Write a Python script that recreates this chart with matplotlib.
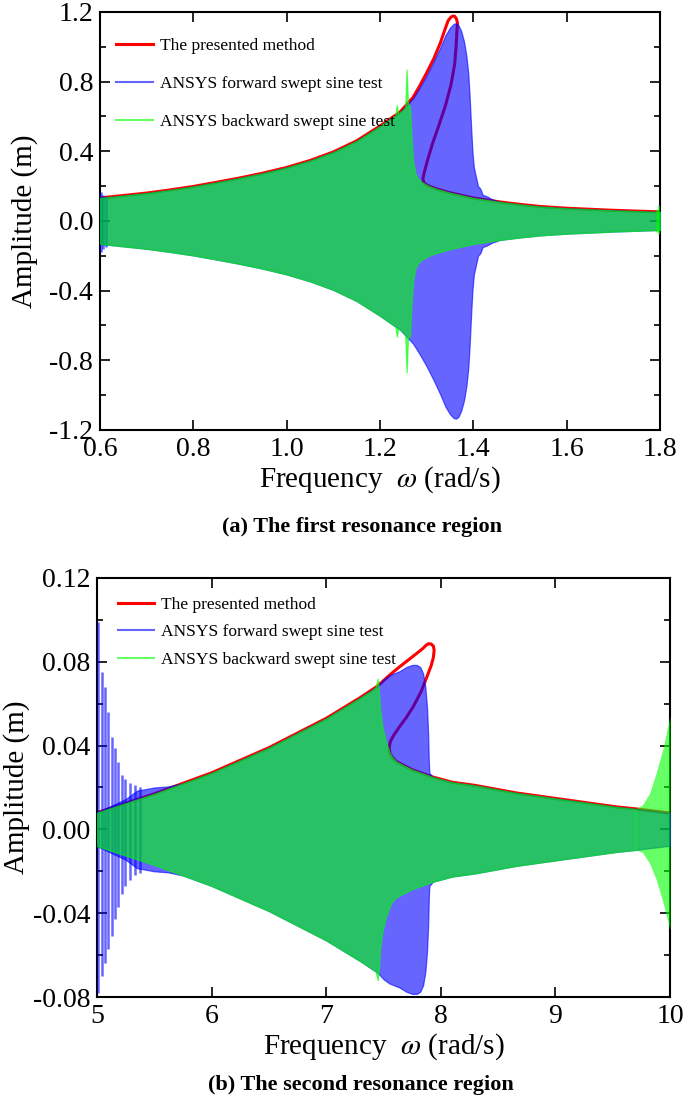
import matplotlib
matplotlib.use("Agg")
import matplotlib.pyplot as plt
from matplotlib.ticker import MultipleLocator, FormatStrFormatter

plt.rcParams["font.family"] = ["Liberation Serif", "DejaVu Serif"]
plt.rcParams["mathtext.fontset"] = "stix"
plt.rcParams["axes.unicode_minus"] = False

# ---------------- (a) first resonance region ----------------
# presented method: frequency response curve, traced through the fold
red_a_w = [0.60, 0.65, 0.70, 0.75, 0.80, 0.85, 0.90, 0.95, 1.00, 1.05, 1.10, 1.15, 1.20,
           1.243, 1.271, 1.285, 1.300, 1.315, 1.329, 1.338, 1.346, 1.352, 1.356, 1.360,
           1.364, 1.366, 1.365, 1.363, 1.360, 1.352, 1.340, 1.325, 1.312, 1.302, 1.295,
           1.292, 1.293, 1.297, 1.305, 1.320, 1.350, 1.400, 1.457, 1.500, 1.543, 1.600,
           1.700, 1.800]
red_a_amp = [0.132, 0.146, 0.160, 0.178, 0.198, 0.222, 0.247, 0.275, 0.307, 0.347, 0.396,
             0.460, 0.545, 0.625, 0.710, 0.775, 0.850, 0.930, 1.020, 1.090, 1.150, 1.170,
             1.176, 1.175, 1.160, 1.135, 1.100, 1.000, 0.900, 0.780, 0.660, 0.540, 0.440,
             0.350, 0.280, 0.245, 0.225, 0.212, 0.200, 0.185, 0.162, 0.132, 0.109, 0.095,
             0.083, 0.073, 0.061, 0.052]

# ANSYS forward swept sine test: envelope of the response
blue_a_w = [0.60, 0.65, 0.70, 0.75, 0.80, 0.85, 0.90, 0.95, 1.00, 1.05, 1.10, 1.15, 1.20,
            1.243, 1.271, 1.285, 1.300, 1.315, 1.329, 1.340, 1.350, 1.358, 1.363, 1.368,
            1.374, 1.380, 1.385, 1.389, 1.392, 1.395, 1.398, 1.401, 1.405, 1.410, 1.415,
            1.420, 1.430, 1.440, 1.457, 1.500, 1.543, 1.600, 1.700, 1.800]
blue_a_amp = [0.132, 0.146, 0.160, 0.178, 0.198, 0.222, 0.247, 0.275, 0.307, 0.347, 0.396,
              0.460, 0.545, 0.625, 0.705, 0.765, 0.835, 0.915, 0.995, 1.065, 1.110, 1.132,
              1.135, 1.125, 1.090, 1.030, 0.950, 0.850, 0.720, 0.550, 0.400, 0.310, 0.260,
              0.200, 0.185, 0.150, 0.140, 0.125, 0.109, 0.095, 0.083, 0.073, 0.061, 0.052]
blue_a_spikes_w = [0.602, 0.607, 0.612]
blue_a_spikes_top = [0.165, 0.150, 0.145]
blue_a_spikes_bot = [-0.180, -0.160, -0.150]

# ANSYS backward swept sine test: envelope of the response
green_a_w = [0.60, 0.65, 0.70, 0.75, 0.80, 0.85, 0.90, 0.95, 1.00, 1.05, 1.10, 1.15, 1.20,
             1.225, 1.233, 1.236, 1.239, 1.243, 1.250, 1.254, 1.257, 1.260, 1.264, 1.268,
             1.271, 1.276, 1.282, 1.290, 1.297, 1.305, 1.320, 1.350, 1.400, 1.457, 1.500,
             1.543, 1.600, 1.700, 1.800]
green_a_amp = [0.132, 0.146, 0.160, 0.178, 0.198, 0.222, 0.247, 0.275, 0.307, 0.347, 0.396,
               0.460, 0.545, 0.592, 0.606, 0.665, 0.615, 0.625, 0.640, 0.655, 0.870, 0.670,
               0.660, 0.450, 0.340, 0.270, 0.240, 0.222, 0.212, 0.200, 0.185, 0.162, 0.132,
               0.109, 0.095, 0.083, 0.073, 0.061, 0.052]
green_a_spikes_w = [1.794, 1.798]
green_a_spikes_top = [0.070, 0.090]
green_a_spikes_bot = [-0.065, -0.075]

# ---------------- (b) second resonance region ----------------
red_b_w = [5.00, 5.25, 5.50, 5.75, 6.00, 6.25, 6.50, 6.75, 7.00, 7.15, 7.30, 7.45, 7.55,
           7.64, 7.72, 7.79, 7.84, 7.87, 7.89, 7.915, 7.935, 7.942, 7.935, 7.915, 7.88,
           7.83, 7.76, 7.70, 7.64, 7.59, 7.56, 7.55, 7.556, 7.575, 7.61, 7.66, 7.75, 7.93,
           8.10, 8.30, 8.50, 8.66, 9.00, 9.54, 9.70, 10.00]
red_b_amp = [0.0080, 0.0125, 0.0170, 0.0220, 0.0270, 0.0330, 0.0390, 0.0460, 0.0530,
             0.0580, 0.0630, 0.0685, 0.0735, 0.0776, 0.0810, 0.0840, 0.0862, 0.0878,
             0.0886, 0.0885, 0.0875, 0.0855, 0.0820, 0.0780, 0.0730, 0.0660, 0.0586,
             0.0535, 0.0490, 0.0450, 0.0420, 0.0390, 0.0365, 0.0345, 0.0325, 0.0310,
             0.0285, 0.0250, 0.0225, 0.0210, 0.0190, 0.0174, 0.0148, 0.0107, 0.0098,
             0.0078]

blue_b_w = [5.00, 5.25, 5.35, 5.50, 5.62, 5.75, 6.00, 6.25, 6.50, 6.75, 7.00, 7.15, 7.30,
            7.45, 7.50, 7.55, 7.64, 7.70, 7.75, 7.79, 7.82, 7.845, 7.865, 7.88, 7.89,
            7.895, 7.90, 7.93, 8.10, 8.30, 8.50, 8.66, 9.00, 9.54, 9.70, 10.00]
blue_b_amp = [0.0080, 0.0145, 0.0185, 0.0200, 0.0205, 0.0220, 0.0270, 0.0330, 0.0390,
              0.0460, 0.0530, 0.0580, 0.0630, 0.0685, 0.0715, 0.0735, 0.0755, 0.0775,
              0.0785, 0.0785, 0.0775, 0.0745, 0.0680, 0.0580, 0.0450, 0.0330, 0.0270,
              0.0250, 0.0225, 0.0210, 0.0190, 0.0174, 0.0148, 0.0107, 0.0098, 0.0078]
# decaying start-up transient of the forward sweep
blue_b_spikes_w = [5.011, 5.041, 5.070, 5.099, 5.128, 5.157, 5.186, 5.215, 5.244, 5.288,
                   5.332, 5.375]
blue_b_spikes_top = [0.099, 0.075, 0.068, 0.056, 0.044, 0.039, 0.032, 0.026, 0.024, 0.022,
                     0.021, 0.020]
blue_b_spikes_bot = [-0.078, -0.070, -0.064, -0.057, -0.051, -0.043, -0.037, -0.031, -0.027,
                     -0.024, -0.022, -0.021]

green_b_w = [5.00, 5.25, 5.50, 5.75, 6.00, 6.25, 6.50, 6.75, 7.00, 7.15, 7.30, 7.40, 7.43,
             7.45, 7.46, 7.47, 7.49, 7.52, 7.556, 7.575, 7.61, 7.66, 7.75, 7.93, 8.10, 8.30,
             8.50, 8.66, 9.00, 9.54, 9.70]
green_b_amp = [0.0080, 0.0125, 0.0170, 0.0220, 0.0270, 0.0330, 0.0390, 0.0460, 0.0530,
               0.0580, 0.0630, 0.0665, 0.0678, 0.0720, 0.0660, 0.0570, 0.0490, 0.0420,
               0.0365, 0.0345, 0.0325, 0.0310, 0.0285, 0.0250, 0.0225, 0.0210, 0.0190,
               0.0174, 0.0148, 0.0107, 0.0098]
# growing transient at the start of the backward sweep
green_b_end_w = [9.70, 9.76, 9.82, 9.88, 9.94, 10.0]
green_b_end_top = [0.0098, 0.0117, 0.017, 0.027, 0.039, 0.054]
green_b_end_bot = [-0.0098, -0.011, -0.016, -0.024, -0.035, -0.048]

RED = "#ff0000"
BLUE = "#0000ff"
GREEN = "#00ff00"


def draw_panel(ax, red, blue, green, extras):
    rw, ra = red
    ax.plot(rw, ra, color=RED, lw=2.2, zorder=2, label="The presented method")
    bw, ba = blue
    ax.fill_between(bw, [-a for a in ba], ba, facecolor=BLUE, edgecolor=BLUE,
                    alpha=0.6, lw=0.9, zorder=3)
    gw, ga = green
    ax.fill_between(gw, [-a for a in ga], ga, facecolor=GREEN, edgecolor=GREEN,
                    alpha=0.6, lw=0.9, zorder=4)
    for kind, w, top, bot in extras:
        col = BLUE if kind == "b" else GREEN
        z = 3 if kind == "b" else 4
        if len(w) > 3 and kind == "g":
            ax.fill_between(w, bot, top, color=col, alpha=0.6, lw=0, zorder=z)
        else:
            ax.vlines(w, bot, top, color=col, alpha=0.6, lw=1.8, zorder=z)
    # legend entries for the filled envelopes
    ax.plot([], [], color="#6464ff", lw=1.5, label="ANSYS forward swept sine test")
    ax.plot([], [], color="#66ff66", lw=1.5, label="ANSYS backward swept sine test")


def style_axes(ax, ylabelpad):
    ax.tick_params(which="both", direction="in", top=True, right=True, width=1.2,
                   labelsize=20, pad=5)
    ax.tick_params(which="major", length=7)
    ax.tick_params(which="minor", length=4)
    for s in ax.spines.values():
        s.set_linewidth(1.5)
    ax.set_ylabel("Amplitude (m)", fontsize=21, labelpad=ylabelpad)
    ax.set_xlabel(r"Frequency  $\omega$ (rad/s)", fontsize=21, labelpad=2)


fig = plt.figure(figsize=(6.85, 11.03), dpi=100)

ax1 = fig.add_axes([0.146, 0.6102, 0.8175, 0.379])
draw_panel(ax1, (red_a_w, red_a_amp), (blue_a_w, blue_a_amp), (green_a_w, green_a_amp),
           [("b", blue_a_spikes_w, blue_a_spikes_top, blue_a_spikes_bot),
            ("g", green_a_spikes_w, green_a_spikes_top, green_a_spikes_bot)])
ax1.set_xlim(0.6, 1.8)
ax1.set_ylim(-1.2, 1.2)
ax1.xaxis.set_major_locator(MultipleLocator(0.2))
ax1.yaxis.set_major_locator(MultipleLocator(0.4))
ax1.yaxis.set_minor_locator(MultipleLocator(0.2))
ax1.xaxis.set_major_formatter(FormatStrFormatter("%.1f"))
ax1.yaxis.set_major_formatter(FormatStrFormatter("%.1f"))
style_axes(ax1, 8)
ax1.legend(loc="upper left", bbox_to_anchor=(0.029, 0.938), frameon=False, fontsize=12.5,
           handlelength=2.1, handletextpad=0.4, labelspacing=1.25, borderpad=0,
           borderaxespad=0)
fig.text(0.528, 1 - 527 / 1103, "(a) The first resonance region", fontsize=16,
         fontweight="bold", ha="center", va="center")

ax2 = fig.add_axes([0.1416, 0.0961, 0.8365, 0.3799])
draw_panel(ax2, (red_b_w, red_b_amp), (blue_b_w, blue_b_amp), (green_b_w, green_b_amp),
           [("b", blue_b_spikes_w, blue_b_spikes_top, blue_b_spikes_bot),
            ("g", green_b_end_w, green_b_end_top, green_b_end_bot)])
ax2.set_xlim(5, 10)
ax2.set_ylim(-0.08, 0.12)
ax2.xaxis.set_major_locator(MultipleLocator(1))
ax2.yaxis.set_major_locator(MultipleLocator(0.04))
ax2.yaxis.set_minor_locator(MultipleLocator(0.02))
ax2.xaxis.set_major_formatter(FormatStrFormatter("%d"))
ax2.yaxis.set_major_formatter(FormatStrFormatter("%.2f"))
style_axes(ax2, 2)
ax2.legend(loc="upper left", bbox_to_anchor=(0.036, 0.955), frameon=False, fontsize=12.5,
           handlelength=2.1, handletextpad=0.4, labelspacing=0.65, borderpad=0,
           borderaxespad=0)
fig.text(0.527, 1 - 1085 / 1103, "(b) The second resonance region", fontsize=16,
         fontweight="bold", ha="center", va="center")

fig.savefig("out.png", dpi=100)
